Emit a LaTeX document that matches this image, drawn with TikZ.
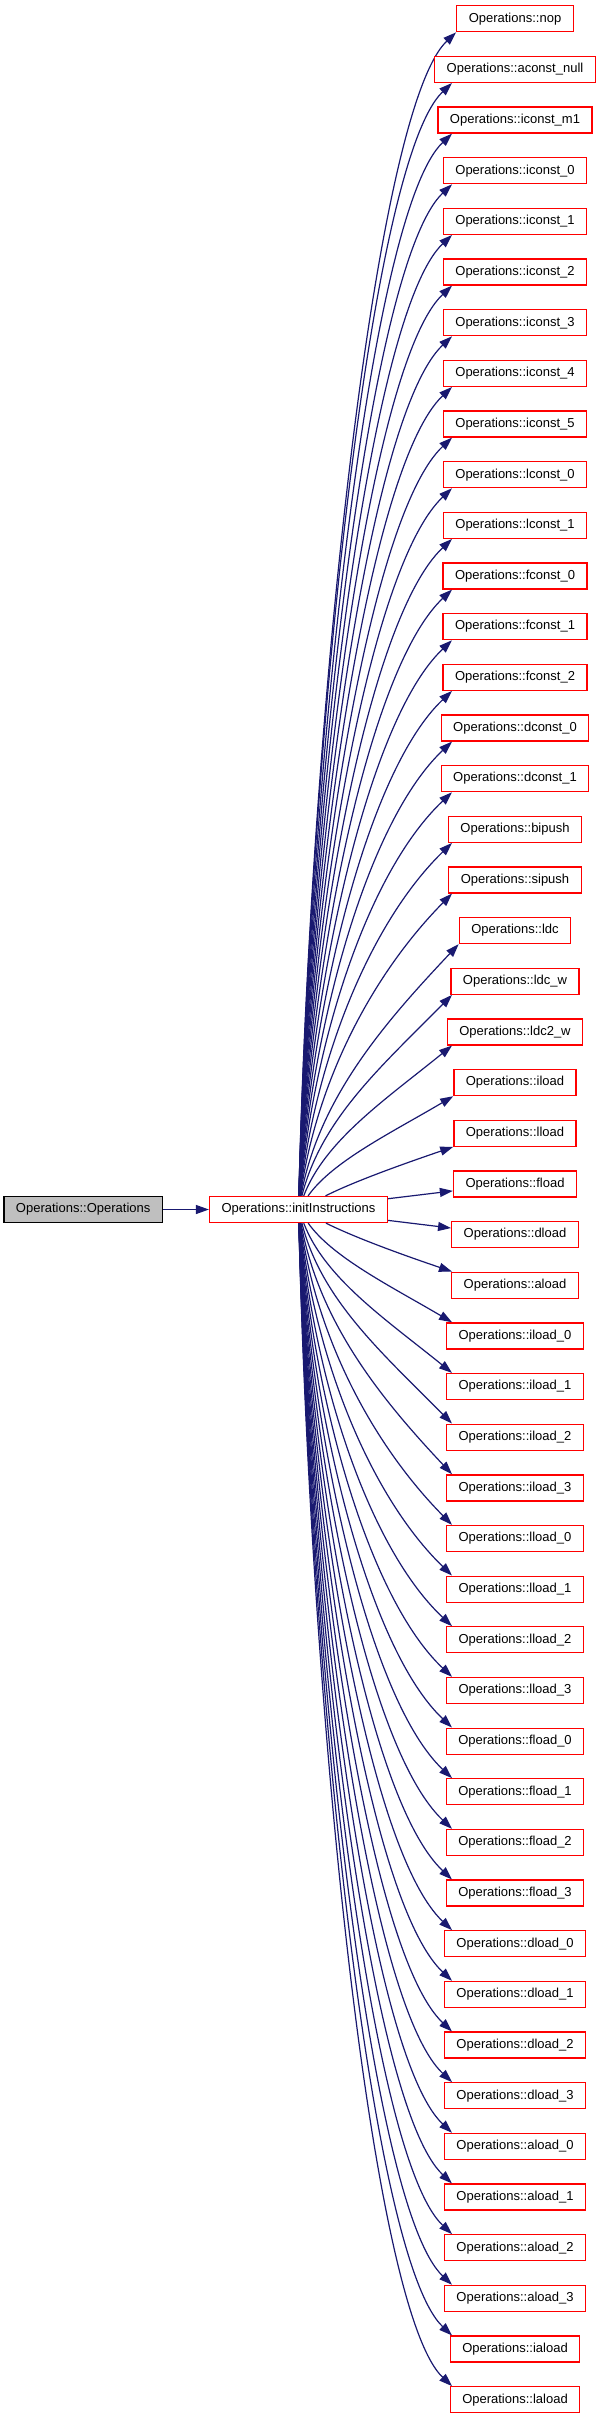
\documentclass[tikz,border=0pt]{standalone}
\usepackage{fontspec}
\setmainfont{Liberation Sans}
\usepackage{tikz}
\usetikzlibrary{arrows.meta,calc}
\definecolor{edgeblue}{RGB}{25,25,112}
\definecolor{boxred}{RGB}{255,0,0}
\definecolor{boxgray}{RGB}{191,191,191}
\tikzset{
    % red boxes of the called functions
    callbox/.style={
        draw=boxred,
        fill=white,
        line width=1.3pt,
        inner xsep=12pt,
        inner ysep=0pt,
        minimum height=26pt,
        font=\fontsize{13}{15}\selectfont
    },
    % the grey box of the caller
    rootbox/.style={
        callbox,
        draw=black,
        fill=boxgray,
        minimum width=157pt
    },
    callarrow/.style={
        line width=1.2pt,
        edgeblue,
        ->,
        >={Triangle[length=13pt, width=9pt]}
    }
}

\begin{document}
\begin{tikzpicture}[x=1pt,y=-1pt]
   \useasboundingbox (0,0) rectangle (600,2419);
   \node[rootbox] (root) at (83.2,1209.5) {Operations::Operations};
   \node[callbox] (init) at (298.5,1209.5) {Operations::initInstructions};
   \draw[callarrow] (root) -- (init);
   \foreach \fn/\lbl [count=\k from 0] in {nop/nop, aconstnull/aconst\_null,
        iconstm1/iconst\_m1, iconst0/iconst\_0, iconst1/iconst\_1,
        iconst2/iconst\_2, iconst3/iconst\_3, iconst4/iconst\_4,
        iconst5/iconst\_5, lconst0/lconst\_0, lconst1/lconst\_1,
        fconst0/fconst\_0, fconst1/fconst\_1, fconst2/fconst\_2,
        dconst0/dconst\_0, dconst1/dconst\_1, bipush/bipush, sipush/sipush,
        ldc/ldc, ldcw/ldc\_w, ldc2w/ldc2\_w, iload/iload, lload/lload,
        fload/fload, dload/dload, aload/aload,
        iload0/iload\_0, iload1/iload\_1, iload2/iload\_2, iload3/iload\_3,
        lload0/lload\_0, lload1/lload\_1, lload2/lload\_2, lload3/lload\_3,
        fload0/fload\_0, fload1/fload\_1, fload2/fload\_2, fload3/fload\_3,
        dload0/dload\_0, dload1/dload\_1, dload2/dload\_2, dload3/dload\_3,
        aload0/aload\_0, aload1/aload\_1, aload2/aload\_2, aload3/aload\_3,
        iaload/iaload, laload/laload} {
     \node[callbox] (\fn) at (515,{18.7+50.66*\k}) {Operations::\lbl};
     \pgfpointanchor{\fn}{west}\pgfgetlastxy{\lx}{\ly}
     \pgfmathsetmacro{\tx}{max(452,\lx)}
     \pgfmathsetmacro{\yt}{18.7+50.66*\k}
     \ifnum\k=23
       \draw[callarrow] (init) -- ($(\fn.west)+(0,7)$);
     \else\ifnum\k=24
       \draw[callarrow] (init) -- ($(\fn.west)+(0,-6.5)$);
     \else
       % curves above and below the caller
       \ifnum\k<23
         \def\sg{-1}\def\side{south}
         \pgfmathsetmacro{\ty}{\yt+13}
       \else
         \def\sg{1}\def\side{north}
         \pgfmathsetmacro{\ty}{\yt-13}
       \fi
       \pgfmathsetmacro{\dd}{abs(\ty-1209.5)}
       \pgfmathsetmacro{\ax}{308.5+2700/\dd}
       \pgfmathsetmacro{\ay}{1209.5+\sg*0.42*\dd}
       \pgfmathsetmacro{\bx}{\tx-55-27*min(1,\dd/400)}
       \pgfmathsetmacro{\by}{\ty-\sg*min(78,0.33*\dd)}
       \draw[callarrow] (init) .. controls (\ax,\ay) and (\bx,\by) .. (\fn.\side -| \tx,0);
     \fi\fi
   }
\end{tikzpicture}
\end{document}
